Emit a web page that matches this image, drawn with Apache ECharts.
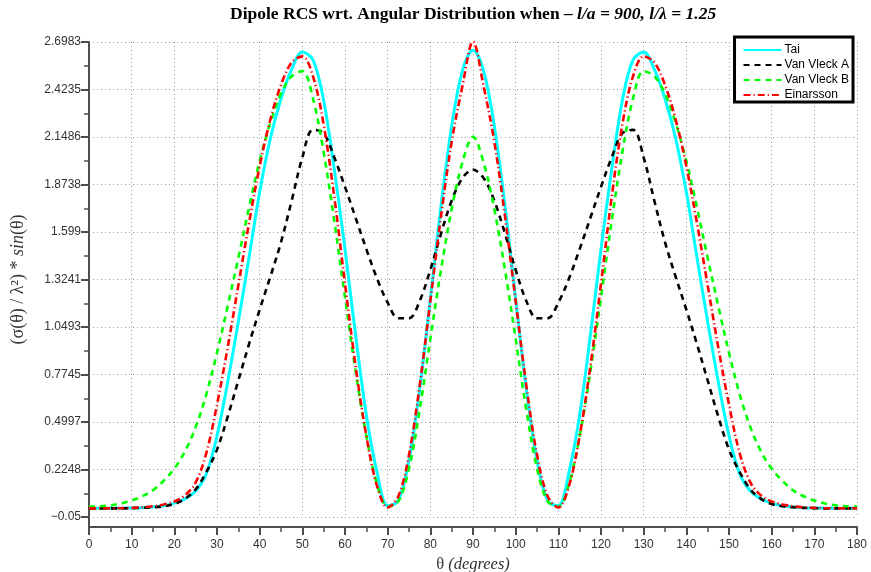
<!DOCTYPE html>
<html><head><meta charset="utf-8">
<script src="https://cdn.jsdelivr.net/npm/echarts@6/dist/echarts.min.js"></script>
<style>html,body{margin:0;padding:0;background:#fff}#c{width:871px;height:572px}</style>
</head><body><div id="c"></div>
<script>
// ---- data ----
const theta = [0,2.5,5,7.5,10,12.5,15,17.5,20,22.5,25,27.5,30,32.5,35,37.5,40,42.5,45,47.5,50,52.5,55,57.5,60,62.5,65,67.5,70,72.5,75,77.5,80,82.5,85,87.5,90,
  92.5,95,97.5,100,102.5,105,107.5,110,112.5,115,117.5,120,122.5,125,127.5,130,132.5,135,137.5,140,142.5,145,147.5,150,152.5,155,157.5,160,162.5,165,167.5,170,172.5,175,177.5,180];

const tai = [0,0,0,0.001,0.002,0.004,0.008,0.015,0.03,0.055,0.10,0.20,0.42,0.73,1.08,1.45,1.83,2.14,2.37,2.54,2.64,2.595,2.36,1.96,1.50,1.00,0.54,0.21,0.015,0.045,0.28,0.69,1.21,1.75,2.21,2.53,2.65,
  2.53,2.21,1.75,1.21,0.69,0.28,0.045,0.015,0.21,0.54,1.00,1.50,1.96,2.36,2.595,2.64,2.54,2.37,2.14,1.83,1.45,1.08,0.73,0.42,0.20,0.10,0.055,0.03,0.015,0.008,0.004,0.002,0.001,0,0,0];

const vanVleckA = [0,0,0,0,0.001,0.003,0.006,0.012,0.025,0.055,0.11,0.21,0.34,0.53,0.74,0.95,1.15,1.34,1.54,1.78,2.03,2.19,2.17,2.03,1.86,1.68,1.50,1.33,1.19,1.10,1.10,1.20,1.38,1.59,1.78,1.91,1.96,
  1.91,1.78,1.59,1.38,1.20,1.10,1.10,1.19,1.33,1.50,1.68,1.86,2.03,2.17,2.19,2.03,1.78,1.54,1.34,1.15,0.95,0.74,0.53,0.34,0.21,0.11,0.055,0.025,0.012,0.006,0.003,0.001,0,0,0,0];

const vanVleckB = [0.01,0.012,0.018,0.028,0.045,0.07,0.105,0.16,0.23,0.33,0.47,0.66,0.90,1.17,1.45,1.74,2.01,2.23,2.40,2.50,2.53,2.37,2.06,1.66,1.22,0.79,0.42,0.14,0.01,0.04,0.23,0.57,0.98,1.38,1.73,2.00,2.15,
  2.00,1.73,1.38,0.98,0.57,0.23,0.04,0.01,0.14,0.42,0.79,1.22,1.66,2.06,2.37,2.53,2.50,2.40,2.23,2.01,1.74,1.45,1.17,0.90,0.66,0.47,0.33,0.23,0.16,0.105,0.07,0.045,0.028,0.018,0.012,0.01];

const einarsson = [0,0,0,0.001,0.003,0.006,0.012,0.022,0.04,0.075,0.15,0.32,0.60,0.93,1.29,1.65,1.98,2.25,2.45,2.58,2.615,2.50,2.22,1.80,1.30,0.82,0.42,0.13,0.005,0.07,0.31,0.71,1.20,1.69,2.12,2.44,2.70,
  2.44,2.12,1.69,1.20,0.71,0.31,0.07,0.005,0.13,0.42,0.82,1.30,1.80,2.22,2.50,2.615,2.58,2.45,2.25,1.98,1.65,1.29,0.93,0.60,0.32,0.15,0.075,0.04,0.022,0.012,0.006,0.003,0.001,0,0,0];

const seriesNames = ['Tai','Van Vleck A','Van Vleck B','Einarsson'];
const yTickLabels = ['\u22120.05','0.2248','0.4997','0.7745','1.0493','1.3241','1.599','1.8738','2.1486','2.4235','2.6983'];
const Y_MIN = -0.05, Y_STEP = 0.27483, Y_MAX = 2.6983;
const X_MIN = 0, X_STEP = 10, X_MAX = 180;

// ---- chart ----
function pairs(ys){ return theta.map((t,i)=>[t, ys[i]]); }
const axisColor = '#4d4d4d';
const sans = '"Liberation Sans", Arial, sans-serif';
const serif = '"Liberation Serif", "Times New Roman", serif';

const chart = echarts.init(document.getElementById('c'), null, {renderer:'canvas'});
const gridLine = {show:true, lineStyle:{color:'#a0a0a0', width:1, type:[1,3]}};

const common = {type:'line', symbol:'none', showSymbol:false, smooth:0.35, z:2};
const option = {
  animation:false,
  backgroundColor:'#ffffff',
  title:{
    text:'{b|Dipole RCS wrt. Angular Distribution when }{bi|\u2013 l/a = 900, l/\u03bb = 1.25}',
    left:230, top:5, padding:0,
    textStyle:{rich:{
      b:{fontFamily:serif, fontWeight:'bold', fontSize:17.5, color:'#000'},
      bi:{fontFamily:serif, fontWeight:'bold', fontStyle:'italic', fontSize:17.5, color:'#000'}
    }}
  },
  legend:{
    orient:'vertical', right:18, top:37,
    itemWidth:38, itemHeight:10, itemGap:3,
    padding:[7,4,1,8],
    borderColor:'#000', borderWidth:3, backgroundColor:'#fff',
    itemStyle:{opacity:0},
    textStyle:{fontFamily:sans, fontSize:12, color:'#000', padding:[0,0,0,-2]},
    data:seriesNames
  },
  grid:{left:89, right:14, top:42, bottom:55, containLabel:false, outerBoundsMode:'none'},
  xAxis:{
    type:'value', min:X_MIN, max:X_MAX, interval:X_STEP, offset:10,
    axisLine:{show:true, onZero:false, lineStyle:{color:axisColor, width:2}},
    axisTick:{show:true, length:8, lineStyle:{color:axisColor, width:2}},
    minorTick:{show:true, splitNumber:2, length:5, lineStyle:{color:axisColor, width:1.5}},
    axisLabel:{fontFamily:sans, fontSize:12, color:'#333', margin:12},
    splitLine:gridLine,
    name:'{n|\u03b8 }{i|(degrees)}', nameLocation:'middle', nameGap:21,
    nameTextStyle:{rich:{
      n:{fontFamily:serif, fontSize:16.5, color:'#333'},
      i:{fontFamily:serif, fontSize:16.5, fontStyle:'italic', color:'#333'}
    }}
  },
  yAxis:{
    type:'value', min:Y_MIN, max:Y_MAX, interval:Y_STEP,
    axisLine:{show:true, onZero:false, lineStyle:{color:axisColor, width:2}},
    axisTick:{show:true, length:8, lineStyle:{color:axisColor, width:2}},
    minorTick:{show:true, splitNumber:2, length:5, lineStyle:{color:axisColor, width:1.5}},
    axisLabel:{fontFamily:sans, fontSize:12, color:'#333', margin:8,
      formatter:function(v){ const k = Math.round((v - Y_MIN)/Y_STEP); return yTickLabels[k] !== undefined ? yTickLabels[k] : ''; }},
    splitLine:gridLine,
    name:'{n|(\u03c3(\u03b8) / \u03bb\u00b2) * }{i|sin}{n|(\u03b8)}', nameLocation:'middle', nameGap:62,
    nameTextStyle:{rich:{
      n:{fontFamily:serif, fontSize:18, color:'#333'},
      i:{fontFamily:serif, fontSize:18, fontStyle:'italic', color:'#333'}
    }}
  },
  series:[
    Object.assign({}, common, {name:seriesNames[0], data:pairs(tai), color:'#00ffff', lineStyle:{color:'#00ffff', width:3, type:'solid'}}),
    Object.assign({}, common, {name:seriesNames[1], data:pairs(vanVleckA), color:'#000000', lineStyle:{color:'#000000', width:2.6, type:[6,5]}}),
    Object.assign({}, common, {name:seriesNames[2], data:pairs(vanVleckB), color:'#00ff00', lineStyle:{color:'#00ff00', width:2.6, type:[6,5]}}),
    Object.assign({}, common, {name:seriesNames[3], data:pairs(einarsson), color:'#ff0000', lineStyle:{color:'#ff0000', width:2.6, type:[7,3,1.2,3]}})
  ]
};
chart.setOption(option);
// extend the y axis line down to the offset x axis line
const p0 = chart.convertToPixel({gridIndex:0}, [X_MIN, Y_MIN]);
chart.setOption({graphic:[{type:'line', z:10, silent:true,
  shape:{x1:p0[0], y1:p0[1]-1, x2:p0[0], y2:p0[1]+11},
  style:{stroke:axisColor, lineWidth:2}}]});
</script>
</body></html>
